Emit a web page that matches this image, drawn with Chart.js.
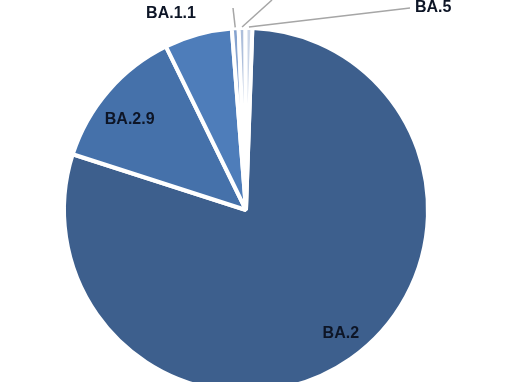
<!DOCTYPE html>
<html>
<head>
<meta charset="utf-8">
<script src="https://cdn.jsdelivr.net/npm/chart.js@4"></script>
<style>
  html, body { margin: 0; padding: 0; background: #fff; }
  body { width: 510px; height: 382px; overflow: hidden; position: relative; }
  #wrap { position: absolute; left: 0; top: 0; width: 510px; height: 420px; }
</style>
</head>
<body>
<div id="wrap"><canvas id="lineageChart" width="510" height="420"></canvas></div>
<script>
// Lineage shares (%)
const lineages = ['BA.2', 'BA.2.9', 'BA.1.1', 'BA.1', 'BA.4', 'BA.5'];
const shares = [79.4, 12.8, 6.0, 0.6, 0.6, 0.6];
const sliceColors = ['#3d5f8d', '#4571aa', '#4e7dba', '#86a3cf', '#aebfdb', '#cad5e7'];

// where each label goes: inside the slice, or outside with a leader line
const labelPlacement = [
    { type: 'inside', dist: 0.83, dx: 8, dy: 0 },
    { type: 'inside', dist: 0.78, dx: -9, dy: 3 },
    { type: 'outside', x: 171, y: 14 },
    { type: 'leader', x: 232, y: -4, lineTo: [233, 8], align: 'center' },
    { type: 'leader', x: 285, y: -14, lineTo: [272, 0], align: 'left' },
    { type: 'leader', x: 415, y: 8, lineTo: [410, 8], align: 'left' }
];

const sliceLabels = {
    id: 'sliceLabels',
    afterDatasetsDraw(chart) {
        const ctx = chart.ctx;
        const arcs = chart.getDatasetMeta(0).data;
        ctx.save();
        ctx.font = 'bold 16px "Liberation Sans", Arial, sans-serif';
        ctx.fillStyle = '#0d1526';
        ctx.textBaseline = 'middle';
        arcs.forEach(function (arc, i) {
            const p = labelPlacement[i];
            const mid = (arc.startAngle + arc.endAngle) / 2;
            if (p.type === 'inside') {
                const r = arc.outerRadius * p.dist;
                ctx.textAlign = 'center';
                ctx.fillText(lineages[i], arc.x + Math.cos(mid) * r + p.dx, arc.y + Math.sin(mid) * r + p.dy);
            } else if (p.type === 'outside') {
                ctx.textAlign = 'center';
                ctx.fillText(lineages[i], p.x, p.y);
            } else {
                // leader line from the slice edge to the label
                const ex = arc.x + Math.cos(mid) * arc.outerRadius;
                const ey = arc.y + Math.sin(mid) * arc.outerRadius;
                ctx.strokeStyle = '#a6a6a6';
                ctx.lineWidth = 1.5;
                ctx.beginPath();
                ctx.moveTo(ex, ey - 1);
                ctx.lineTo(p.lineTo[0], p.lineTo[1]);
                ctx.stroke();
                ctx.textAlign = p.align;
                ctx.fillText(lineages[i], p.x, p.y);
            }
        });
        ctx.restore();
    }
};

new Chart(document.getElementById('lineageChart').getContext('2d'), {
    type: 'pie',
    data: {
        labels: lineages,
        datasets: [{
            data: shares,
            backgroundColor: sliceColors,
            borderColor: '#ffffff',
            borderWidth: 4
        }]
    },
    options: {
        responsive: false,
        animation: false,
        rotation: 2,
        layout: { padding: { left: 62, right: 80, top: 26, bottom: 26 } },
        plugins: {
            legend: { display: false },
            tooltip: { enabled: false }
        }
    },
    plugins: [sliceLabels]
});
</script>
</body>
</html>
